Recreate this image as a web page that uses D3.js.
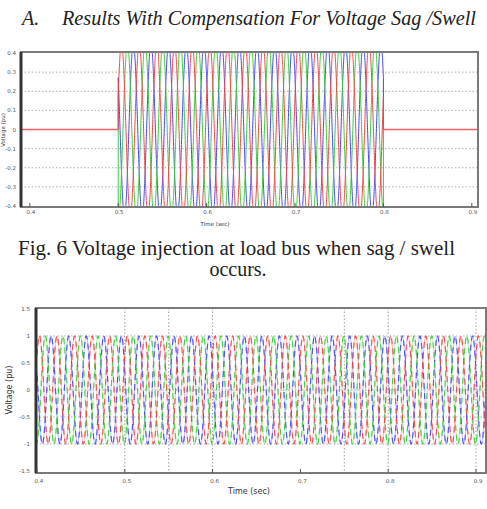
<!DOCTYPE html>
<html>
<head>
<meta charset="utf-8">
<script src="https://cdn.jsdelivr.net/npm/d3@7"></script>
<style>
  html, body { margin: 0; padding: 0; background: #fff; }
  svg { display: block; }
</style>
</head>
<body>
<svg id="chart" width="487" height="509"></svg>
<script>
// ---------------- data ----------------
const phaseNames = ["Phase A", "Phase B", "Phase C"];
const phaseColors = ["#ee4848", "#3ccc3c", "#4848ee"];
const phaseShiftDeg = [0, -120, 120];
const frequencyHz = 50;

// Fig. 6 (top): injected voltage, only during sag/swell window
const topTimeRange = [0.39, 0.907];
const injectionWindow = [0.5, 0.8];
const injectionAmplitude = [0.45, 0.45, 0.45];
const topXTicks = [0.4, 0.5, 0.6, 0.7, 0.8, 0.9];
const topYTicks = [0.4, 0.3, 0.2, 0.1, 0, -0.1, -0.2, -0.3, -0.4];
const topYGrid = [0.3, 0.2, 0.1, -0.1, -0.2, -0.3];

// bottom: compensated load voltage
const botTimeRange = [0.4, 0.9125];
const loadAmplitude = [1.0, 1.0, 1.0];
const botXTicks = [0.4, 0.5, 0.6, 0.7, 0.8, 0.9];
const botXGrid = [0.5, 0.55, 0.6, 0.75, 0.8, 0.9];
const botYTicks = [1.5, 1, 0.5, 0, -0.5, -1, -1.5];
const botYGrid = [1, 0, -0.5, -1];

// ---------------- drawing ----------------
const svg = d3.select("#chart");
const fmt = d => (d === 0 ? "0" : String(d));
const drawOrder = [2, 1, 0]; // red phase ends on top

// heading
svg.append("text").attr("x", 22).attr("y", 25)
  .attr("font-family", "Liberation Serif, serif").attr("font-style", "italic")
  .attr("font-size", 20).attr("fill", "#222").text("A.");
svg.append("text").attr("x", 62).attr("y", 25)
  .attr("font-family", "Liberation Serif, serif").attr("font-style", "italic")
  .attr("font-size", 20).attr("fill", "#222")
  .attr("textLength", 414).attr("lengthAdjust", "spacingAndGlyphs")
  .text("Results With Compensation For Voltage Sag /Swell");

// caption
svg.append("text").attr("x", 18).attr("y", 255)
  .attr("font-family", "Liberation Serif, serif")
  .attr("font-size", 20).attr("fill", "#222")
  .attr("textLength", 437).attr("lengthAdjust", "spacingAndGlyphs")
  .text("Fig. 6 Voltage injection at load bus when sag / swell");
svg.append("text").attr("x", 238).attr("y", 276).attr("text-anchor", "middle")
  .attr("font-family", "Liberation Serif, serif")
  .attr("font-size", 20).attr("fill", "#222")
  .text("occurs.");

function sampleTimes(t0, t1, dt) {
  const out = [];
  for (let t = t0; t <= t1 + 1e-9; t += dt) out.push(+t.toFixed(6));
  return out;
}

function panel(cfg) {
  const g = svg.append("g");
  const x = d3.scaleLinear().domain(cfg.xDomain).range([cfg.left, cfg.right]);
  const y = d3.scaleLinear().domain(cfg.yDomain).range(cfg.yRange);
  const clipId = cfg.id + "-clip";
  svg.append("defs").append("clipPath").attr("id", clipId)
    .append("rect").attr("x", cfg.left).attr("y", cfg.top)
    .attr("width", cfg.right - cfg.left).attr("height", cfg.bottom - cfg.top);

  // grid
  g.selectAll(".hg").data(cfg.yGrid).join("line")
    .attr("x1", cfg.left).attr("x2", cfg.right)
    .attr("y1", d => y(d)).attr("y2", d => y(d))
    .attr("stroke", "#9a9a9a").attr("stroke-width", 0.8)
    .attr("stroke-dasharray", "1.5,2");
  g.selectAll(".vg").data(cfg.xGrid).join("line")
    .attr("y1", cfg.top).attr("y2", cfg.bottom)
    .attr("x1", d => x(d)).attr("x2", d => x(d))
    .attr("stroke", "#8a8a8a").attr("stroke-width", 0.8)
    .attr("stroke-dasharray", "1.5,2");

  // series
  const line = d3.line().x(d => x(d[0])).y(d => y(d[1]));
  const series = drawOrder.map(i => ({ i, pts: cfg.points(i) }));
  const sg = g.append("g").attr("clip-path", `url(#${clipId})`);
  if (cfg.dash) {
    sg.selectAll("path.base").data(series).join("path").attr("class", "base")
      .attr("d", d => line(d.pts)).attr("fill", "none")
      .attr("stroke", d => phaseColors[d.i])
      .attr("stroke-width", 0.8).attr("stroke-opacity", 0.45);
  }
  sg.selectAll("path.main").data(series).join("path").attr("class", "main")
    .attr("d", d => line(d.pts)).attr("fill", "none")
    .attr("stroke", d => phaseColors[d.i])
    .attr("stroke-width", cfg.strokeW)
    .attr("stroke-opacity", cfg.opacity)
    .attr("stroke-dasharray", cfg.dash || null)
    .attr("stroke-dashoffset", d => d.i * 3);

  // flat (no-injection) segments, drawn in the red phase colour
  if (cfg.flat) {
    sg.selectAll("path.flat").data(cfg.flat).join("path").attr("class", "flat")
      .attr("d", d => line(d)).attr("fill", "none")
      .attr("stroke", "#f06060").attr("stroke-width", 1.6);
  }

  // frame
  g.append("rect").attr("x", cfg.left).attr("y", cfg.top)
    .attr("width", cfg.right - cfg.left).attr("height", cfg.bottom - cfg.top)
    .attr("fill", "none").attr("stroke", "#7a7a7a").attr("stroke-width", 2);
  g.append("line").attr("x1", cfg.left).attr("x2", cfg.left)
    .attr("y1", cfg.top).attr("y2", cfg.bottom)
    .attr("stroke", "#333").attr("stroke-width", 3);

  // x ticks
  g.selectAll(".xt").data(cfg.xTicks).join("line")
    .attr("x1", d => x(d)).attr("x2", d => x(d))
    .attr("y1", cfg.bottom).attr("y2", cfg.bottom - 4)
    .attr("stroke", "#555").attr("stroke-width", 1);
  g.selectAll(".xl").data(cfg.xTicks).join("text")
    .attr("x", d => x(d) + cfg.xLabelShift).attr("y", cfg.bottom + cfg.xLabelDy)
    .attr("text-anchor", "middle")
    .attr("font-family", "DejaVu Sans, sans-serif").attr("font-size", cfg.tickFont)
    .attr("fill", "#555").text(fmt);
  // y labels
  g.selectAll(".yl").data(cfg.yTicks).join("text")
    .attr("x", cfg.left - cfg.yLabelGap).attr("y", d => y(d) + 2)
    .attr("text-anchor", "end")
    .attr("font-family", "DejaVu Sans, sans-serif").attr("font-size", cfg.tickFont)
    .attr("fill", "#555").text(fmt);
  // axis titles
  g.append("text").attr("x", cfg.xTitle[0]).attr("y", cfg.xTitle[1])
    .attr("text-anchor", "middle")
    .attr("font-family", "DejaVu Sans, sans-serif").attr("font-size", cfg.titleFont)
    .attr("fill", "#333").text("Time (sec)");
  g.append("text")
    .attr("transform", `translate(${cfg.yTitle[0]},${cfg.yTitle[1]}) rotate(-90)`)
    .attr("text-anchor", "middle")
    .attr("font-family", "DejaVu Sans, sans-serif").attr("font-size", cfg.titleFont)
    .attr("fill", "#333").text("Voltage (pu)");
}

const w = 2 * Math.PI * frequencyHz;
const rad = d => d * Math.PI / 180;

panel({
  id: "top", left: 21, right: 478, top: 52, bottom: 207,
  xDomain: topTimeRange, yDomain: [-0.4, 0.4], yRange: [206, 53],
  xTicks: topXTicks, yTicks: topYTicks, yGrid: topYGrid, xGrid: [],
  points: i => {
    const inj = t => injectionAmplitude[i] * Math.sin(w * t + rad(phaseShiftDeg[i]) + 0.4);
    const win = sampleTimes(injectionWindow[0], injectionWindow[1], 0.0001)
      .map(t => [t, inj(t)]);
    return [[injectionWindow[0], 0], ...win, [injectionWindow[1], 0]];
  },
  flat: [
    [[topTimeRange[0], 0], [injectionWindow[0], 0]],
    [[injectionWindow[1], 0], [topTimeRange[1], 0]]
  ],
  strokeW: 1, opacity: 1, tickFont: 5.5, titleFont: 5.5,
  xLabelDy: 7, xLabelShift: 1, yLabelGap: 5,
  xTitle: [215, 226], yTitle: [5, 130]
});

panel({
  id: "bot", left: 36, right: 486, top: 308, bottom: 473,
  xDomain: [0.4 - 1 / 880, 0.4 + 450 / 880], yDomain: [-1.5, 1.5], yRange: [471, 309],
  xTicks: botXTicks, yTicks: botYTicks, yGrid: botYGrid, xGrid: botXGrid,
  points: i => sampleTimes(botTimeRange[0], botTimeRange[1], 0.0001)
    .map(t => [t, loadAmplitude[i] * Math.sin(w * t + rad(phaseShiftDeg[i]) + 0.7)]),
  strokeW: 1.2, opacity: 0.9, dash: "6,4", tickFont: 5.5, titleFont: 8,
  xLabelDy: 10, xLabelShift: 2, yLabelGap: 6,
  xTitle: [249, 494], yTitle: [12, 390]
});
</script>
</body>
</html>
